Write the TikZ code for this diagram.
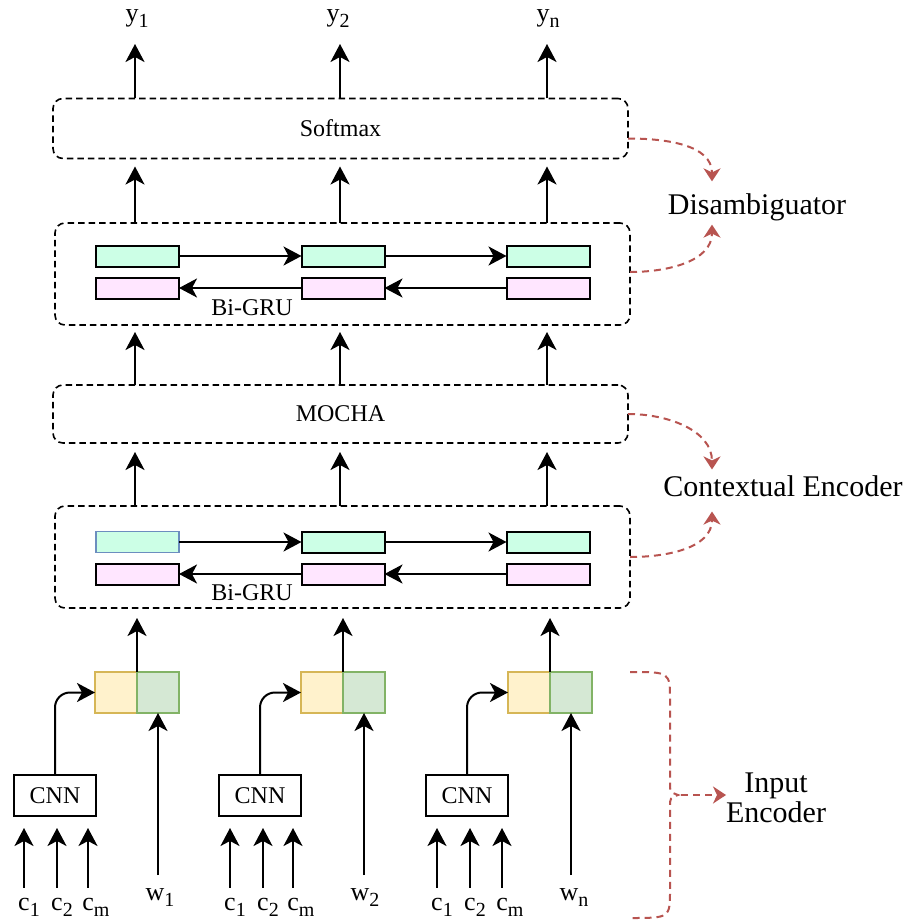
\documentclass[tikz,border=0pt]{standalone}
\usepackage{fontspec}
\setmainfont{Liberation Serif}
\usetikzlibrary{arrows.meta}

\definecolor{fwdfill}{HTML}{CCFFE6}
\definecolor{bwdfill}{HTML}{FFE6FF}
\definecolor{charfill}{HTML}{FFF2CC}
\definecolor{chardraw}{HTML}{D6B656}
\definecolor{wordfill}{HTML}{D5E8D4}
\definecolor{worddraw}{HTML}{82B366}
\definecolor{blueedge}{HTML}{6C8EBF}
\definecolor{notered}{HTML}{B85450}

% index set below the baseline, slightly smaller than the symbol
\newcommand\idx[1]{\raisebox{-6pt}{\fontsize{20}{20}\selectfont #1}}

\begin{document}
\begin{tikzpicture}[x=1pt,y=-1pt,
  every node/.style={inner sep=0pt, outer sep=0pt},
  txt/.style={font=\fontsize{24}{28}\selectfont},
  sym/.style={font=\fontsize{26}{28}\selectfont, anchor=base},
  bigtxt/.style={font=\fontsize{30}{30}\selectfont, align=center},
  layer/.style={draw, line width=1.6pt, dash pattern=on 6.5pt off 4pt,
                rounded corners=10pt, minimum width=575pt, txt},
  cell/.style={draw, line width=2pt, minimum width=83pt, minimum height=21pt},
  fwd/.style={cell, fill=fwdfill},
  bwd/.style={cell, fill=bwdfill},
  half/.style={draw, line width=1.5pt, minimum width=42pt, minimum height=41pt},
  charhalf/.style={half, fill=charfill, draw=chardraw},
  wordhalf/.style={half, fill=wordfill, draw=worddraw},
  cnnbox/.style={draw, line width=2pt, minimum width=82pt, minimum height=41pt, txt},
  flow/.style={line width=2pt, -{Stealth[length=18pt,width=19pt,inset=5pt]}},
  note/.style={notered, line width=2pt, dash pattern=on 7pt off 5pt,
               -{Stealth[length=13pt,width=17pt,inset=4pt]}},
  brace/.style={notered, line width=2pt, dash pattern=on 7pt off 5pt},
]
\fill[white] (0,0) rectangle (906,923);
\useasboundingbox (0,0) rectangle (906,923);

% column guides for the vertical data flow
\coordinate (k1) at (135,0);
\coordinate (k2) at (340,0);
\coordinate (k3) at (547,0);

% outputs
\node[sym] (y1) at (137,22) {y\idx{1}};
\node[sym] (y2) at (338,22) {y\idx{2}};
\node[sym] (yn) at (548,22) {y\idx{n}};

% layers
\node[layer, minimum height=60pt]  (soft)  at (340.5,128.5) {Softmax};
\node[layer, minimum height=102pt] (gruA)  at (342.5,274) {};
\node[layer, minimum height=58pt]  (mocha) at (340.5,414) {MOCHA};
\node[layer, minimum height=102pt] (gruB)  at (342.5,557) {};

% upper Bi-GRU cells
\node[fwd] (fa1) at (137.5,256) {};
\node[fwd] (fa2) at (343,256) {};
\node[fwd] (fa3) at (548,256) {};
\node[bwd] (ba1) at (137.5,288) {};
\node[bwd] (ba2) at (343,288) {};
\node[bwd] (ba3) at (548,288) {};
\node[txt] (lblA) at (252,308) {Bi-GRU};

% lower Bi-GRU cells
\node[fwd, draw=blueedge, line width=1.5pt] (fb1) at (137.5,542) {};
\node[fwd] (fb2) at (343,542) {};
\node[fwd] (fb3) at (548,542) {};
\node[bwd] (bb1) at (137.5,574) {};
\node[bwd] (bb2) at (343,574) {};
\node[bwd] (bb3) at (548,574) {};
\node[txt] (lblB) at (252,593) {Bi-GRU};

% recurrent connections
\draw[flow] (fa1) -- (fa2);
\draw[flow] (fa2) -- (fa3);
\draw[flow] (ba2) -- (ba1);
\draw[flow] (ba3) -- (ba2);
\draw[flow] (fb1) -- (fb2);
\draw[flow] (fb2) -- (fb3);
\draw[flow] (bb2) -- (bb1);
\draw[flow] (bb3) -- (bb2);

% inter-layer connections
\foreach \k/\y in {k1/y1,k2/y2,k3/yn}{
  \draw[flow, shorten >=16pt] (\k |- soft.north) -- (\k |- \y.south);
  \draw[flow, shorten >=8pt] (\k |- gruA.north) -- (\k |- soft.south);
  \draw[flow, shorten >=7pt] (\k |- mocha.north) -- (\k |- gruA.south);
  \draw[flow, shorten >=9pt] (\k |- gruB.north) -- (\k |- mocha.south);
}

% word representations: character part | word part
\node[charhalf] (ch1) at (116,692.5) {};
\node[wordhalf] (wd1) at (158,692.5) {};
\node[charhalf] (ch2) at (322,692.5) {};
\node[wordhalf] (wd2) at (364,692.5) {};
\node[charhalf] (ch3) at (529,692.5) {};
\node[wordhalf] (wd3) at (571,692.5) {};

\foreach \c in {ch1,ch2,ch3}{
  \draw[flow, shorten >=10pt] (\c.north east) -- (\c.north east |- gruB.south);
}

% character CNNs
\node[cnnbox] (cnn1) at (55,795.5) {CNN};
\node[cnnbox] (cnn2) at (260,795.5) {CNN};
\node[cnnbox] (cnn3) at (467,795.5) {CNN};

\draw[flow, rounded corners=15pt] (cnn1.north) |- (ch1.west);
\draw[flow, rounded corners=15pt] (cnn2.north) |- (ch2.west);
\draw[flow, rounded corners=15pt] (cnn3.north) |- (ch3.west);

% word inputs
\node[sym] (w1) at (160,900) {w\idx{1}};
\node[sym] (w2) at (365,900) {w\idx{2}};
\node[sym] (wn) at (574,900) {w\idx{n}};
\draw[flow, shorten <=13pt] (wd1.south |- w1.north) -- (wd1.south);
\draw[flow, shorten <=13pt] (wd2.south |- w2.north) -- (wd2.south);
\draw[flow, shorten <=13pt] (wd3.south |- wn.north) -- (wd3.south);

% character inputs
\foreach \n/\a/\b/\m in {1/24/57/88, 2/230/263/293, 3/437/470/502}{
  \node[sym] (ca\n) at (\a+5,910) {c\idx{1}};
  \node[sym] (cb\n) at (\b+5,910) {c\idx{2}};
  \node[sym] (cm\n) at (\m+8,910) {c\idx{m}};
  \draw[flow, shorten <=10pt, shorten >=12pt] ([xshift=-5pt]ca\n.north) -- ([xshift=-5pt]ca\n.north |- cnn\n.south);
  \draw[flow, shorten <=10pt, shorten >=12pt] ([xshift=-5pt]cb\n.north) -- ([xshift=-5pt]cb\n.north |- cnn\n.south);
  \draw[flow, shorten <=10pt, shorten >=12pt] ([xshift=-8pt]cm\n.north) -- ([xshift=-8pt]cm\n.north |- cnn\n.south);
}

% module annotations
\node[bigtxt] (dis) at (757,207) {Disambiguator};
\node[bigtxt] (ctx) at (783,486) {Contextual Encoder};
\node[bigtxt] (inp) at (776,798) {Input\\Encoder};

\draw[note] ([yshift=-10pt]soft.east) to[out=0, in=90] ([xshift=-45pt, yshift=12pt]dis.north);
\draw[note] ([yshift=2pt]gruA.east) to[out=0, in=-90] ([xshift=-45pt, yshift=-4pt]dis.south);
\draw[note] (mocha.east) to[out=0, in=90] ([xshift=-71pt, yshift=6pt]ctx.north);
\draw[note] (gruB.east) to[out=0, in=-90] ([xshift=-71pt, yshift=-15pt]ctx.south);

% brace spanning the input encoder
\draw[brace] (630,672) .. controls (670,672) and (670,672) .. (670,700)
  -- (670,783) .. controls (670,792) .. (678,795)
  .. controls (670,798) .. (670,807)
  -- (670,890) .. controls (670,918) and (670,918) .. (630,918);
\coordinate (nub) at (681,795);
\draw[note] (nub) -- (nub -| inp.west);
\end{tikzpicture}
\end{document}
